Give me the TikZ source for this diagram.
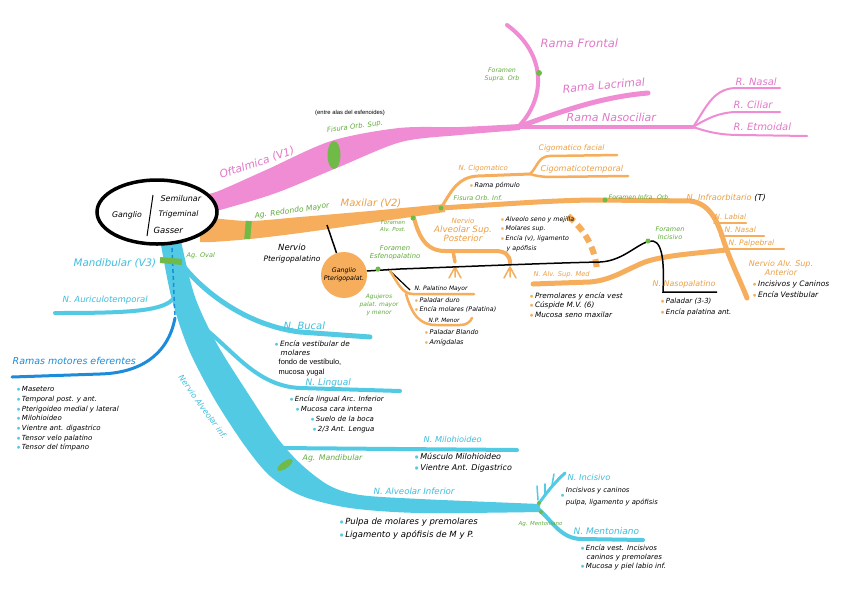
\documentclass[tikz,border=0pt]{standalone}
\usepackage{fontspec}
\usetikzlibrary{shapes.geometric}
\newfontfamily\handfont{DejaVu Sans}
\newfontfamily\plainfont{Liberation Sans}
\definecolor{pinkN}{RGB}{240,140,212}
\definecolor{pinkT}{RGB}{226,120,200}
\definecolor{orangeN}{RGB}{246,174,92}
\definecolor{orangeT}{RGB}{236,160,70}
\definecolor{cyanN}{RGB}{82,202,228}
\definecolor{cyanT}{RGB}{62,190,222}
\definecolor{blueN}{RGB}{28,140,218}
\definecolor{greenN}{RGB}{112,186,72}
\definecolor{greenT}{RGB}{96,172,60}
\newcommand\hsz[2]{\handfont\itshape\fontsize{#1}{#2}\selectfont}
\newcommand\bl[1]{\textcolor{#1}{$\bullet$}\,}

\tikzset{
  lblP/.style={text=pinkT, inner sep=0.5pt},
  lblO/.style={text=orangeT, inner sep=0.5pt},
  lblC/.style={text=cyanT, inner sep=0.5pt},
  lblG/.style={text=greenT, align=center, inner sep=0.5pt},
  blk/.style={text=black, align=left, inner sep=0.5pt},
  nervP/.style={draw=pinkN, line width=4pt, line cap=round},
  nervO/.style={draw=orangeN, line width=4pt, line cap=round},
  nervC/.style={draw=cyanN, line width=4pt, line cap=round},
  gdot/.style={circle, fill=greenN, inner sep=0pt, minimum size=5pt},
}

\begin{document}
\begin{tikzpicture}[x=1pt,y=-1pt]
\useasboundingbox (0,0) rectangle (848,603);
\fill[white] (0,0) rectangle (848,603);

% ---- oftalmica (V1)
\fill[pinkN] plot[smooth] coordinates {(200,194) (216,192) (266,170) (331,141) (399,128) (460,127) (520,124)}
  -- plot[smooth] coordinates {(520,130) (460,135) (401,142) (339,167) (276,193) (220,210) (200,214)} -- cycle;
\coordinate (pj) at (518,127);
\coordinate (frE) at (507,25);
\coordinate (lacE) at (648,93);
\coordinate (naJ) at (693,127);
\coordinate (nasE) at (780,88);
\coordinate (cilE) at (780,112);
\coordinate (etmE) at (807,136);
\draw[nervP] (pj) .. controls (545,100) and (548,55) .. (frE);
\draw[nervP, line width=5pt] (pj) .. controls (560,112) and (600,97) .. (lacE);
\draw[nervP, line width=4.5pt] (pj) -- (naJ);
\draw[nervP, line width=2pt] (naJ) .. controls (705,110) and (712,89) .. (735,88) -- (nasE);
\draw[nervP, line width=2pt] (naJ) .. controls (708,118) and (718,113) .. (735,112) -- (cilE);
\draw[nervP, line width=2pt] (naJ) .. controls (708,132) and (720,135) .. (740,135) -- (etmE);
\node[ellipse, fill=greenN, minimum width=13pt, minimum height=28pt, inner sep=0pt] (fisMark) at (334,155) {};
\node[gdot, minimum size=6pt] (supraDot) at (539,73) {};

% ---- maxilar (V2)
\fill[orangeN] plot[smooth] coordinates {(200,217) (212,218) (250,221) (300,217) (370,211) (445,204)}
  -- plot[smooth] coordinates {(445,212) (370,223) (300,233) (250,239) (212,242) (200,242)} -- cycle;
\coordinate (o1) at (441,208);
\coordinate (oR) at (690,201);
\coordinate (oA) at (747,298);
\draw[nervO, line width=5pt] (o1) .. controls (520,203) and (560,200) .. (600,200) -- (oR)
  .. controls (710,203) and (718,222) .. (724,242) .. controls (732,265) and (740,280) .. (oA);
\draw[nervO, line width=2pt] (714,223) -- (746,223);
\draw[nervO, line width=2pt] (720,236) -- (764,236);
\draw[nervO, line width=2pt] (725,249) -- (784,249);
% cigomatico
\coordinate (cg1) at (530,174);
\draw[nervO, line width=3pt] (o1) .. controls (452,190) and (458,177) .. (478,176) -- (cg1);
\draw[nervO, line width=2.5pt] (cg1) .. controls (537,168) and (538,156) .. (550,156) -- (617,155);
\draw[nervO, line width=2.5pt] (cg1) .. controls (537,176) .. (547,177) -- (628,176);
% alveolar sup. posterior
\coordinate (asp0) at (413,214);
\draw[nervO] (asp0) .. controls (418,235) and (425,251) .. (445,251) -- (495,251) .. controls (505,251) and (510,255) .. (510,263);
\draw[nervO, line width=3.5pt] (453,251) -- (455,262);
\foreach \x in {455,510} {
  \draw[orangeN, line width=1.5pt, line cap=round] (\x,267) -- (\x-6,278) (\x,267) -- (\x+6,278) (\x,267) -- (\x,277);
}
\draw[orangeN, line width=6pt, dash pattern=on 8pt off 5pt] (568,216) .. controls (585,230) and (595,248) .. (597,270);
% alveolar sup. medio
\coordinate (aM0) at (533,284);
\draw[nervO, line width=5pt] (aM0) -- (590,282) .. controls (612,280) and (625,270) .. (645,262) .. controls (665,255) and (700,253) .. (726,250);
% pterigopalatino
\coordinate (ptyTop) at (327,225);
\node[circle, fill=orangeN, minimum size=46pt, inner sep=0pt, align=center, font=\hsz{6.3}{8}] (gpt) at (344,275) {Ganglio\\Pterigopalat.};
\draw[line width=1.5pt] (ptyTop) -- (gpt);
\coordinate (npE) at (717,292);
\draw[line width=1.5pt] (gpt.10) -- (400,269) .. controls (480,266) and (550,263) .. (600,262)
  .. controls (625,261) and (640,240) .. (653,241) .. controls (664,243) and (664,270) .. (663,292) -- (npE);
\draw[line width=1.2pt] (388,269) -- (410,290);
\draw[nervO, line width=2.5pt] (390,271) .. controls (398,283) and (402,294) .. (413,294) -- (474,294);
\draw[nervO, line width=2.5pt] (406,294) .. controls (412,315) and (420,325) .. (436,325) -- (460,325) .. controls (467,325) and (470,322) .. (472,318);
\node[rectangle, fill=greenN, minimum width=6pt, minimum height=18pt, inner sep=0pt, rotate=-5] (redMark) at (248,230) {};
\node[gdot] (alvPDot) at (413,218) {};
\node[gdot] (cigDot) at (441,208) {};
\node[gdot] (infraDot) at (605,200) {};
\node[gdot] (esfDot) at (378,269) {};
\node[gdot] (incDot) at (648,241) {};

% ---- mandibular (V3)
\fill[cyanN] plot[smooth] coordinates {(160,235) (161,245) (172,300) (189,350) (215,400) (245,446) (270,476) (302,496) (350,508) (420,513) (540,512)}
  -- plot[smooth] coordinates {(540,504) (420,499) (360,495) (330,486) (303,466) (279,440) (249,395) (217,344) (195,297) (181,241) (182,235)} -- cycle;
\coordinate (bu0) at (180,262);
\coordinate (li0) at (200,325);
\coordinate (au0) at (172,300);
\coordinate (mi0) at (278,448);
\coordinate (mo0) at (172,248);
\coordinate (mo1) at (175,318);
\coordinate (in0) at (537,506);
\coordinate (me0) at (537,508);
\draw[nervC, line width=5pt] (bu0) .. controls (205,295) and (250,326) .. (300,332) -- (370,337);
\draw[nervC] (li0) .. controls (232,348) and (255,386) .. (300,388) -- (400,391);
\draw[nervC] (au0) .. controls (160,312) and (120,313) .. (55,313);
\draw[nervC] (mi0) -- (517,450);
\draw[blueN, line width=1.5pt, dash pattern=on 4pt off 3pt] (mo0) -- (mo1);
\draw[blueN, line width=3pt, line cap=round] (mo1) .. controls (168,355) and (140,373) .. (100,374) -- (12,377);
\draw[nervC, line width=3pt] (in0) .. controls (545,495) and (552,485) .. (565,473);
\foreach \a/\b in {{538,500}/{537,486}, {545,494}/{545,484}, {552,485}/{554,474}} {
  \draw[cyanN, line width=1.5pt, line cap=round] (\a) -- (\b);
}
\draw[nervC] (me0) .. controls (552,520) and (560,539) .. (582,539) -- (643,540);
\node[rectangle, fill=greenN, minimum width=22pt, minimum height=6pt, inner sep=0pt, rotate=-5] (ovalMark) at (171,261) {};
\node[ellipse, fill=greenN, minimum width=18pt, minimum height=7pt, inner sep=0pt, rotate=35] (mandMark) at (285,465) {};
\node[gdot, minimum size=4pt] (mentDotA) at (539,503) {};
\node[gdot, minimum size=4pt] (mentDotB) at (541,512) {};

% ---- ganglio de Gasser
\node[ellipse, draw, line width=3.5pt, fill=white, minimum width=120pt, minimum height=64pt] (gasser) at (157,212) {};
\coordinate (vTop) at (153,195);
\coordinate (vBot) at (147,236);
\draw[line width=1pt] (vTop) -- (vBot);
\node[font=\hsz{7.8}{9}] (gTxt) at (127,215) {Ganglio};
\node[font=\hsz{8}{9}, anchor=west] (sTxt) at (157,199) {Semilunar};
\node[font=\hsz{7.6}{9}, anchor=west] (tTxt) at (155,214) {Trigeminal};
\node[font=\hsz{8.5}{9}, anchor=west] (gaTxt) at (150,230) {Gasser};

% ---- textos V1
\node[lblP, font=\hsz{10.8}{12}, rotate=19] (oft) at (257,163) {Oftalmica (V1)};
\node[font=\plainfont\fontsize{5.9}{7}\selectfont] (entre) at (350,113) {(entre alas del esfenoides)};
\node[lblG, font=\hsz{6.9}{8}, rotate=8] (fisSup) at (355,127) {Fisura Orb. Sup.};
\node[lblG, font=\hsz{6.3}{8}] (fSupra) at (502,75) {Foramen\\Supra. Orb};
\node[lblP, font=\hsz{11.5}{13}, anchor=west] (rFront) at (540,43) {Rama Frontal};
\node[lblP, font=\hsz{11}{13}, anchor=west, rotate=5] (rLac) at (562,89) {Rama Lacrimal};
\node[lblP, font=\hsz{11}{13}, anchor=west] (rNaso) at (566,117) {Rama Nasociliar};
\node[lblP, font=\hsz{10}{12}, anchor=west] (rNasal) at (735,82) {R. Nasal};
\node[lblP, font=\hsz{10}{12}, anchor=west] (rCil) at (733,105) {R. Ciliar};
\node[lblP, font=\hsz{10}{12}, anchor=west] (rEtm) at (733,127) {R. Etmoidal};

% ---- textos V2
\node[lblG, font=\hsz{7.6}{9}, rotate=8] (agRed) at (292,211) {Ag. Redondo Mayor};
\node[lblO, font=\hsz{10}{12}, anchor=west] (maxil) at (340,203) {Maxilar (V2)};
\node[lblO, font=\hsz{7}{8}, anchor=west] (nCig) at (458,169) {N. Cigomatico};
\node[lblO, font=\hsz{7.6}{9}, anchor=west] (cigFac) at (538,148) {Cigomatico facial};
\node[lblO, font=\hsz{8.1}{9}, anchor=west] (cigTem) at (540,169) {Cigomaticotemporal};
\node[blk, font=\hsz{6.5}{8}, anchor=west] (rPom) at (469,186) {\bl{orangeN}Rama pómulo};
\node[lblG, font=\hsz{6.5}{8}, anchor=west] (fisInf) at (453,198) {Fisura Orb. Inf.};
\node[lblG, font=\hsz{6.2}{8}, anchor=west] (fInfra) at (608,197) {Foramen Infra. Orb.};
\node[lblO, font=\hsz{8.2}{10}, anchor=west] (nInfra) at (686,198) {N. Infraorbitario {\color{black}(T)}};
\node[lblO, font=\hsz{7.2}{9}, anchor=west] (nLab) at (714,217) {N. Labial};
\node[lblO, font=\hsz{7.5}{9}, anchor=west] (nNas) at (724,230) {N. Nasal};
\node[lblO, font=\hsz{7.5}{9}, anchor=west] (nPalp) at (728,243) {N. Palpebral};
\node[lblO, align=center, font=\hsz{8}{9}] (nAnt) at (781,268) {Nervio Alv. Sup.\\Anterior};
\node[blk, font=\hsz{7.5}{10.5}, anchor=west] (antList) at (752,289) {\bl{orangeN}Incisivos y Caninos\\\bl{orangeN}Encía Vestibular};
\node[lblG, font=\hsz{5.5}{6.5}] (fAlvP) at (393,226) {Foramen\\Alv. Post.};
\node[lblO, align=center, font=\hsz{8.7}{9}] (nASP) at (463,230) {{\fontsize{7}{8}\selectfont Nervio}\\Alveolar Sup.\\Posterior};
\node[blk, font=\hsz{6.3}{9.8}, anchor=west] (aspList) at (500,234) {\bl{orangeN}Alveolo seno y mejilla\\\bl{orangeN}Molares sup.\\\bl{orangeN}Encía (v), ligamento\\\hspace*{6pt}y apófisis};
\node[lblG, font=\hsz{6.8}{8}] (fEsf) at (395,253) {Foramen\\Esfenopalatino};
\node[blk, align=center, font=\hsz{7.5}{11}] (nPtery) at (292,254) {{\fontsize{8.5}{9}\selectfont Nervio}\\Pterigopalatino};
\node[lblG, font=\hsz{6}{8}] (agPal) at (379,305) {Agujeros\\palat. mayor\\y menor};
\node[blk, font=\hsz{6}{7}, anchor=west] (nPalMay) at (414,289) {N. Palatino Mayor};
\node[blk, font=\hsz{6.3}{9}, anchor=west] (palMayList) at (414,305) {\bl{orangeN}Paladar duro\\\bl{orangeN}Encía molares (Palatina)};
\node[blk, font=\hsz{5.8}{7}, anchor=west] (nPMen) at (428,320) {N.P. Menor};
\node[blk, font=\hsz{6.5}{10}, anchor=west] (pMenList) at (424,338) {\bl{orangeN}Paladar Blando\\\bl{orangeN}Amígdalas};
\node[lblO, font=\hsz{6.7}{8}, anchor=west] (nASM) at (533,275) {N. Alv. Sup. Med};
\node[blk, font=\hsz{7.3}{9.5}, anchor=west] (asmList) at (529,305) {\bl{orangeN}Premolares y encía vest\\\bl{orangeN}Cúspide M.V. (6)\\\bl{orangeN}Mucosa seno maxilar};
\node[lblG, font=\hsz{6.5}{8}] (fInc) at (670,233) {Foramen\\Incisivo};
\node[lblO, font=\hsz{7.9}{9}, anchor=west] (nNasop) at (652,284) {N. Nasopalatino};
\node[blk, font=\hsz{7}{11}, anchor=west] (nasopList) at (660,307) {\bl{orangeN}Paladar (3-3)\\\bl{orangeN}Encía palatina ant.};

% ---- textos V3
\node[lblC, font=\hsz{10.3}{12}, anchor=west] (mand) at (73,263) {Mandibular (V3)};
\node[lblG, font=\hsz{6.5}{8}, anchor=west] (agOval) at (186,256) {Ag. Oval};
\node[lblC, font=\hsz{8.5}{10}, anchor=west] (nAur) at (62,300) {N. Auriculotemporal};
\node[font=\hsz{9.5}{11}, text=blueN, anchor=west, inner sep=0.5pt] (rMot) at (12,361) {Ramas motores eferentes};
\node[blk, font=\hsz{7}{9.7}, anchor=west] (motList) at (16,419) {\bl{cyanN}Masetero\\\bl{cyanN}Temporal post. y ant.\\\bl{cyanN}Pterigoideo medial y lateral\\\bl{cyanN}Milohioideo\\\bl{cyanN}Vientre ant. digastrico\\\bl{cyanN}Tensor velo palatino\\\bl{cyanN}Tensor del tímpano};
\node[lblC, font=\hsz{8}{10}, rotate=-54] (nvAlvInf) at (203,407) {Nervio Alveolar inf.};
\node[lblC, font=\hsz{10}{12}, anchor=west] (nBuc) at (283,326) {N. Bucal};
\node[blk, font=\hsz{7.3}{8.5}, anchor=north west] (bucList) at (274,340) {\bl{cyanN}Encía vestibular de\\\hspace*{6pt}molares};
\node[font=\plainfont\fontsize{7.4}{10}\selectfont, align=left, anchor=north west, inner sep=0.5pt] (bucTxt) at (278,358) {fondo de vestíbulo,\\mucosa yugal};
\node[lblC, font=\hsz{9}{11}, anchor=west] (nLing) at (305,383) {N. Lingual};
\node[blk, font=\hsz{7}{10}, anchor=north west] (lingList) at (289,395) {\bl{cyanN}Encía lingual Arc. Inferior\\\hspace*{6pt}\bl{cyanN}Mucosa cara interna\\\hspace*{21pt}\bl{cyanN}Suelo de la boca\\\hspace*{23pt}\bl{cyanN}2/3 Ant. Lengua};
\node[lblC, font=\hsz{8.2}{10}, anchor=west] (nMilo) at (423,439) {N. Milohioideo};
\node[blk, font=\hsz{8}{11}, anchor=north west] (miloList) at (414,452) {\bl{cyanN}Músculo Milohioideo\\\bl{cyanN}Vientre Ant. Digastrico};
\node[lblG, font=\hsz{7.8}{9}, anchor=west] (agMand) at (302,458) {Ag. Mandibular};
\node[lblC, font=\hsz{8.6}{10}, anchor=west] (nAlvInf) at (373,491) {N. Alveolar Inferior};
\node[blk, font=\hsz{8.5}{13}, anchor=north west] (alvInfList) at (339,517) {\bl{cyanN}Pulpa de molares y premolares\\\bl{cyanN}Ligamento y apófisis de M y P.};
\node[lblC, font=\hsz{8.3}{10}, anchor=west] (nInc) at (567,477) {N. Incisivo};
\node[blk, font=\hsz{6.8}{12}, anchor=west] (incList) at (560,496) {\bl{cyanN}\begin{tabular}[c]{@{}l@{}}Incisivos y caninos\\pulpa, ligamento y apófisis\end{tabular}};
\node[lblG, font=\hsz{5.5}{7}, anchor=west] (agMent) at (518,524) {Ag. Mentoniano};
\node[lblC, font=\hsz{9}{10}, anchor=west] (nMent) at (573,531) {N. Mentoniano};
\node[blk, font=\hsz{7}{9}, anchor=north west] (mentList) at (580,544) {\bl{cyanN}Encía vest. Incisivos\\\hspace*{6pt}caninos y premolares\\\bl{cyanN}Mucosa y piel labio inf.};
\end{tikzpicture}
\end{document}
